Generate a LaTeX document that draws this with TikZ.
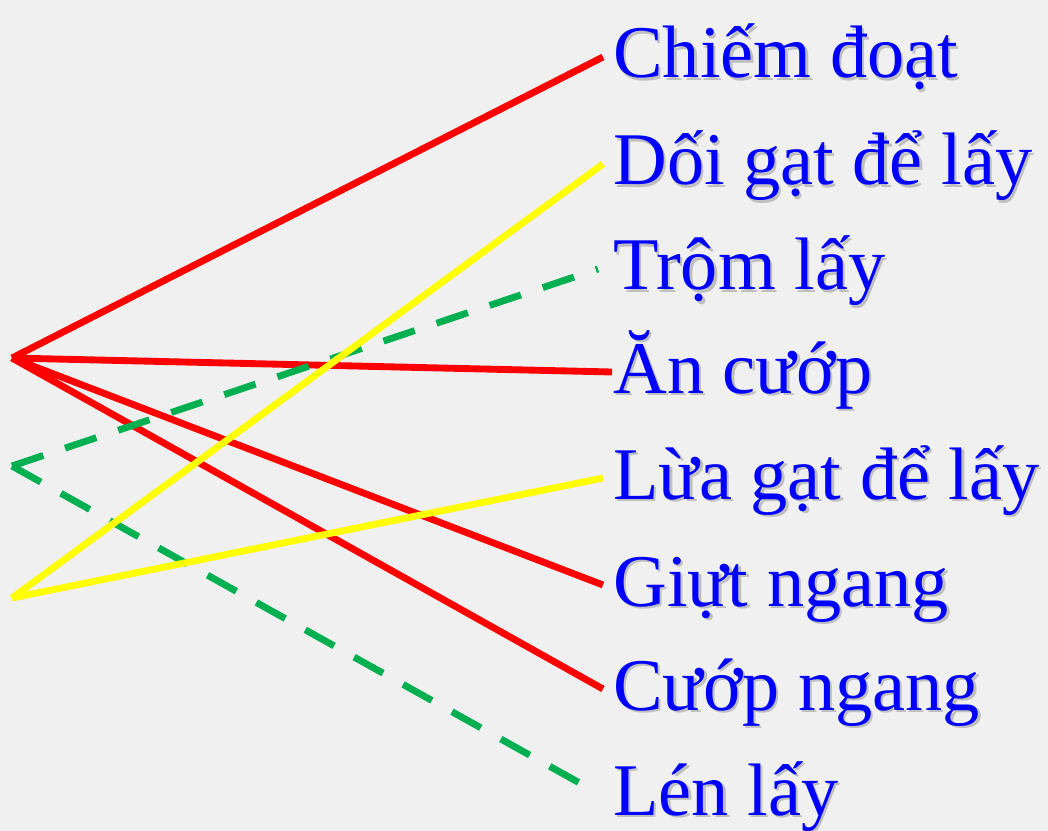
\documentclass[tikz,border=0pt]{standalone}
\usepackage{fontspec}
\setmainfont{Liberation Serif}
\usepackage{xcolor}
\usetikzlibrary{positioning}
\definecolor{bgray}{RGB}{240,240,240}
\definecolor{wordblue}{RGB}{0,0,255}
\definecolor{linkred}{RGB}{255,0,0}
\definecolor{linkyellow}{RGB}{255,255,0}
\definecolor{linkgreen}{RGB}{0,176,80}
\newcommand{\shadowed}[1]{\rlap{\kern1.4pt\raisebox{-1.4pt}{\textcolor{black!25}{#1}}}#1}

\begin{document}
\begin{tikzpicture}[x=0.02cm, y=-0.02cm,
        word/.style={anchor=base west, inner xsep=0.2cm, inner ysep=0pt,
                     text height=1.2cm, text depth=0.36cm, text=wordblue,
                     font=\fontsize{42.3}{50}\selectfont},
        redlink/.style={draw=linkred, line width=3.9pt},
        yellowlink/.style={draw=linkyellow, line width=3.9pt},
        greenlink/.style={draw=linkgreen, line width=3.9pt,
                          dash pattern=on 0.66cm off 0.46cm}
      ]
        \fill[bgray] (0,0) rectangle (1048,831);
        \useasboundingbox (0,0) rectangle (1048,831);

        % hubs on the left
        \coordinate (hubred)    at (12,358);
        \coordinate (hubgreen)  at (12,466);
        \coordinate (hubyellow) at (12,598);

        % words on the right
        \node[word] (chiem)  at (603,78)  {\shadowed{Chiếm đoạt}};
        \node[word] (doigat) at (603,185) {\shadowed{Dối gạt để lấy}};
        \node[word] (trom)   at (603,290) {\shadowed{Trộm lấy}};
        \node[word] (ancuop) at (603,393) {\shadowed{Ăn cướp}};
        \node[word] (luagat) at (603,499) {\shadowed{Lừa gạt để lấy}};
        \node[word] (giut)   at (603,606) {\shadowed{Giựt ngang}};
        \node[word] (cuop)   at (603,710) {\shadowed{Cướp ngang}};
        \node[word] (len)    at (603,815) {\shadowed{Lén lấy}};

        \draw[redlink] (hubred) -- (chiem.west);
        \draw[redlink] (hubred) -- ([xshift=0.18cm]ancuop.west);
        \draw[redlink] (hubred) -- (giut.west);
        \draw[redlink] (hubred) -- (cuop.west);

        \draw[greenlink] (hubgreen) -- ([xshift=-0.1cm]trom.west);
        \draw[greenlink] (hubgreen) -- ([xshift=-0.36cm, yshift=0.16cm]len.west);

        \draw[yellowlink] (hubyellow) -- (doigat.west);
        \draw[yellowlink] (hubyellow) -- (luagat.west);
      \end{tikzpicture}
\end{document}
